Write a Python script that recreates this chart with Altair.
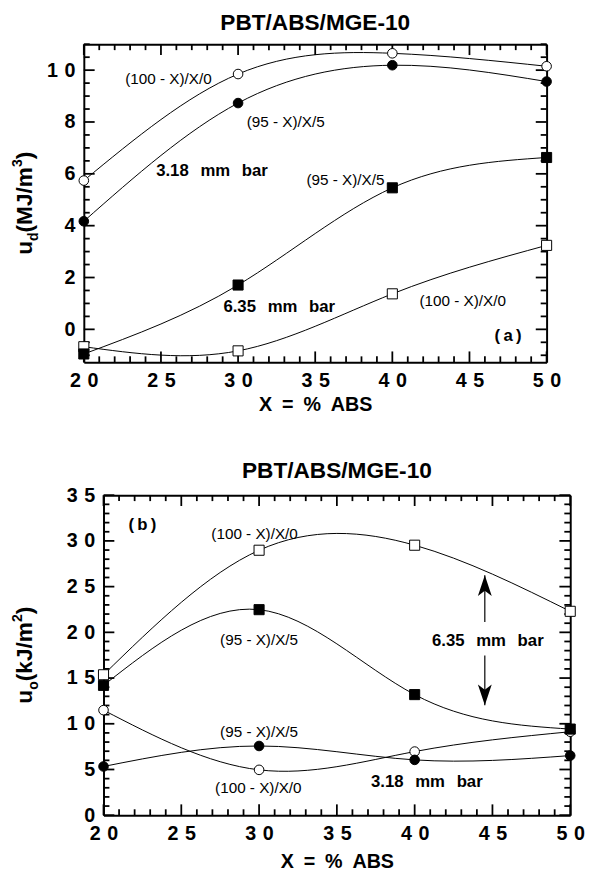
import altair as alt
import pandas as pd

FONT = "Liberation Sans"

# ---------------- data ----------------
X_ABS = [20, 30, 40, 50]

# Panel (a): u_d (MJ/m^3)
A_100_318 = [5.74, 9.85, 10.65, 10.15]   # (100-X)/X/0, 3.18 mm bar, open circles
A_95_318 = [4.17, 8.73, 10.19, 9.56]     # (95-X)/X/5, 3.18 mm bar, filled circles
A_100_635 = [-0.67, -0.83, 1.37, 3.24]   # (100-X)/X/0, 6.35 mm bar, open squares
A_95_635 = [-0.95, 1.71, 5.46, 6.63]     # (95-X)/X/5, 6.35 mm bar, filled squares

# Panel (b): u_o (kJ/m^2)
B_100_318 = [11.49, 4.96, 6.96, 9.13]    # open circles
B_95_318 = [5.33, 7.57, 6.05, 6.52]      # filled circles
B_100_635 = [15.36, 28.98, 29.53, 22.30] # open squares
B_95_635 = [14.20, 22.48, 13.19, 9.42]   # filled squares

X_MAJOR = [20, 25, 30, 35, 40, 45, 50]
X_MINOR = [v for v in range(20, 51) if v % 5]
A_Y_LABELS = [0, 2, 4, 6, 8, 10]
A_Y_MINOR = [v / 2 for v in range(-2, 23) if v % 4]
B_Y_LABELS = [0, 5, 10, 15, 20, 25, 30, 35]
B_Y_MINOR = [v for v in range(0, 36) if v % 5]

TITLE = "PBT/ABS/MGE-10"
X_TITLE = "X\u2002=\u2002%\u2002ABS"
BAR318 = "3.18\u2002\u2009mm\u2002\u2009bar"
BAR635 = "6.35\u2002\u2009mm\u2002\u2009bar"

A_NOTE_TXT = ["(100 - X)/X/0", "(95 - X)/X/5", "(95 - X)/X/5", "(100 - X)/X/0"]
A_NOTE_X = [25.49, 33.09, 36.96, 44.56]
A_NOTE_Y = [9.66, 8.00, 5.76, 1.08]
A_BOLD_TXT = [BAR318, BAR635, "(\u2009a\u2009)"]
A_BOLD_X = [28.31, 32.67, 47.5]
A_BOLD_Y = [6.12, 0.86, -0.25]

B_NOTE_TXT = ["(100 - X)/X/0", "(95 - X)/X/5", "(95 - X)/X/5", "(100 - X)/X/0"]
B_NOTE_X = [29.71, 30.0, 30.0, 29.95]
B_NOTE_Y = [30.8, 19.2, 9.13, 2.97]
B_BOLD_TXT = [BAR635, BAR318, "(\u2009b\u2009)"]
B_BOLD_X = [44.7, 40.78, 22.5]
B_BOLD_Y = [19.0, 3.59, 31.7]

ARROW_X = [44.51, 44.51]
ARROW_FROM = [21.13, 17.46]
ARROW_TIP = [26.24, 12.03]
ARROW_HEAD = ["M0,0L0.67,2L0,1.5L-0.67,2Z", "M0,0L0.67,-2L0,-1.5L-0.67,-2Z"]

LABEL_EXPR = ("length(datum.label) > 1 ? slice(datum.label, 0, 1) + '\u2004' + "
              "slice(datum.label, 1) : datum.label")

W_BOLD = {"u": 0.611, "d": 0.611, "o": 0.611, "(": 0.333, ")": 0.333, "M": 0.833,
          "J": 0.556, "/": 0.278, "m": 0.889, "k": 0.556, "3": 0.556, "2": 0.556}

MAJOR_LEN, MINOR_LEN = 11, 6   # tick lengths in pixels


def series_df(vals):
    rows = []
    for name, ys, shape, fill in vals:
        for x, y in zip(X_ABS, ys):
            rows.append({"x": x, "y": y, "series": name, "shape": shape, "fill": fill,
                         "size": 95 if shape == "circle" else 105})
    return pd.DataFrame(rows)


def title_df(parts, f, cy, bx):
    fs = round(f * 0.62, 1)
    items = []
    for t, k in parts:
        size = f if k == "main" else fs
        shift = 0 if k == "main" else (0.3 * f if k == "sub" else -0.42 * f)
        w = sum(W_BOLD.get(c, 0.6) for c in t) * size
        items.append((t, size, shift, w))
    total = sum(i[3] for i in items)
    y = cy + total / 2
    rows = []
    for t, size, shift, w in items:
        rows.append({"t": t, "size": size, "px": bx + shift, "py": y})
        y -= w
    return pd.DataFrame(rows)


def frame_ticks(ydom, w, h, y_major, y_minor):
    """Inward tick segments on all four sides, in data units."""
    x0, x1 = 20, 50
    y0, y1 = ydom
    kx = (x1 - x0) / w   # data units per pixel
    ky = (y1 - y0) / h
    rows = []
    for vals, ln in [(X_MAJOR, MAJOR_LEN), (X_MINOR, MINOR_LEN)]:
        for v in vals:
            rows.append({"tx": v, "tx2": v, "ty": y0, "ty2": y0 + ln * ky})
            rows.append({"tx": v, "tx2": v, "ty": y1, "ty2": y1 - ln * ky})
    for vals, ln in [(y_major, MAJOR_LEN), (y_minor, MINOR_LEN)]:
        for v in vals:
            rows.append({"tx": x0, "tx2": x0 + ln * kx, "ty": v, "ty2": v})
            rows.append({"tx": x1, "tx2": x1 - ln * kx, "ty": v, "ty2": v})
    return pd.DataFrame(rows)


def ax(orient, **kw):
    base = dict(orient=orient, grid=False, domain=False, labels=False, ticks=False,
                title="", domainColor="black", domainWidth=2, tickSize=0)
    base.update(kw)
    return alt.Axis(**base)


def panel(df, ydom, w, h, d, y_labels, y_minor, notes, bolds,
          ytitle, ytitle_cy, ytitle_bx, title_dx, title_offset, xlab_pad, xtitle_pad,
          arrows=None):
    xs = alt.Scale(domain=[20, 50], range=[d, d + w], nice=False, zero=False)
    ys = alt.Scale(domain=ydom, nice=False, zero=False)
    base = alt.Chart(df)

    lab = dict(labels=True, labelExpr=LABEL_EXPR, labelFont=FONT, labelFontSize=20,
               labelFontWeight="bold", labelColor="black", labelFlush=False,
               labelOverlap=False)
    lines = base.mark_line(interpolate="natural", color="black", strokeWidth=1).encode(
        x=alt.X("x:Q", scale=xs,
                axis=ax("bottom", domain=True, values=X_MAJOR, labelPadding=xlab_pad,
                        title=X_TITLE, titleFont=FONT, titleFontSize=20,
                        titleFontWeight="bold", titleColor="black",
                        titlePadding=xtitle_pad, **lab)),
        y=alt.Y("y:Q", scale=ys,
                axis=ax("left", domain=True, values=y_labels, labelPadding=9,
                        offset=-d, **lab)),
        detail="series:N")
    frame2 = base.mark_point(opacity=0).encode(
        x=alt.X("x:Q", scale=xs, axis=ax("top", domain=True)),
        y=alt.Y("y:Q", scale=ys, axis=ax("right", domain=True)))

    ticks = alt.Chart(frame_ticks(ydom, w, h, y_labels, y_minor)).mark_rule(
        color="black", strokeWidth=1.8, opacity=1).encode(
        x=alt.X("tx:Q", scale=xs, axis=None), x2="tx2:Q",
        y=alt.Y("ty:Q", scale=ys, axis=None), y2="ty2:Q")

    points = base.mark_point(filled=True, stroke="black", strokeWidth=1, opacity=1).encode(
        x=alt.X("x:Q", scale=xs, axis=None), y=alt.Y("y:Q", scale=ys, axis=None),
        shape=alt.Shape("shape:N", scale=None), fill=alt.Fill("fill:N", scale=None),
        size=alt.Size("size:Q", scale=None))

    ndf = pd.DataFrame({"x": notes[1], "y": notes[2], "t": notes[0]})
    bdf = pd.DataFrame({"x": bolds[1], "y": bolds[2], "t": bolds[0]})
    note_l = alt.Chart(ndf).mark_text(font=FONT, fontSize=15.5, color="black",
                                      align="center", baseline="middle").encode(
        x=alt.X("x:Q", scale=xs, axis=None), y=alt.Y("y:Q", scale=ys, axis=None), text="t:N")
    bold_l = alt.Chart(bdf).mark_text(font=FONT, fontSize=17, fontWeight="bold",
                                      color="black", align="center",
                                      baseline="middle").encode(
        x=alt.X("x:Q", scale=xs, axis=None), y=alt.Y("y:Q", scale=ys, axis=None), text="t:N")

    tdf = title_df(ytitle, 23, ytitle_cy, ytitle_bx)
    ytl = alt.Chart(tdf).mark_text(angle=270, align="left", baseline="alphabetic",
                                   font=FONT, fontWeight="bold", color="black").encode(
        x=alt.X("px:Q", scale=None, axis=None), y=alt.Y("py:Q", scale=None, axis=None),
        text="t:N", size=alt.Size("size:Q", scale=None))

    layers = [lines, frame2, ticks, points, note_l, bold_l, ytl]
    if arrows is not None:
        adf = pd.DataFrame({"x": arrows[0], "y1": arrows[1], "y2": arrows[2],
                            "head": arrows[3]})
        shaft = alt.Chart(adf).mark_rule(color="black", strokeWidth=1.2).encode(
            x=alt.X("x:Q", scale=xs, axis=None), y=alt.Y("y1:Q", scale=ys, axis=None),
            y2="y2:Q")
        head = alt.Chart(adf).mark_point(filled=True, color="black", opacity=1,
                                         size=441).encode(
            x=alt.X("x:Q", scale=xs, axis=None), y=alt.Y("y2:Q", scale=ys, axis=None),
            shape=alt.Shape("head:N", scale=None))
        layers += [shaft, head]

    return alt.layer(*layers).resolve_axis(x="independent", y="independent").properties(
        width=w + d, height=h,
        title=alt.TitleParams(TITLE, font=FONT, fontSize=23, fontWeight="bold",
                              color="black", offset=title_offset, anchor="middle",
                              dx=title_dx))


df_a = series_df([
    ("a_100_318", A_100_318, "circle", "white"),
    ("a_95_318", A_95_318, "circle", "black"),
    ("a_100_635", A_100_635, "square", "white"),
    ("a_95_635", A_95_635, "square", "black"),
])
df_b = series_df([
    ("b_100_318", B_100_318, "circle", "white"),
    ("b_95_318", B_95_318, "circle", "black"),
    ("b_100_635", B_100_635, "square", "white"),
    ("b_95_635", B_95_635, "square", "black"),
])

HA, HB = 323, 325
top = panel(df_a, [-1.27, 11.0], 470, HA, 0, A_Y_LABELS, A_Y_MINOR,
            (A_NOTE_TXT, A_NOTE_X, A_NOTE_Y), (A_BOLD_TXT, A_BOLD_X, A_BOLD_Y),
            [("u", "main"), ("d", "sub"), ("(MJ/m", "main"), ("3", "sup"), (")", "main")],
            HA / 2, -53, 0, 9, 9, 4)
bottom = panel(df_b, [0, 35], 474, HB, 20, B_Y_LABELS, B_Y_MINOR,
               (B_NOTE_TXT, B_NOTE_X, B_NOTE_Y), (B_BOLD_TXT, B_BOLD_X, B_BOLD_Y),
               [("u", "main"), ("o", "sub"), ("(kJ/m", "main"), ("2", "sup"), (")", "main")],
               HB / 2, -53, 10, 2, 9, 8,
               arrows=(ARROW_X, ARROW_FROM, ARROW_TIP, ARROW_HEAD))

chart = alt.vconcat(top, bottom, spacing=45).configure_view(
    stroke="transparent").properties(padding={"left": 2, "top": -4, "right": 0, "bottom": 0})

chart.save("out.html", embed_options={"renderer": "svg", "actions": False})
